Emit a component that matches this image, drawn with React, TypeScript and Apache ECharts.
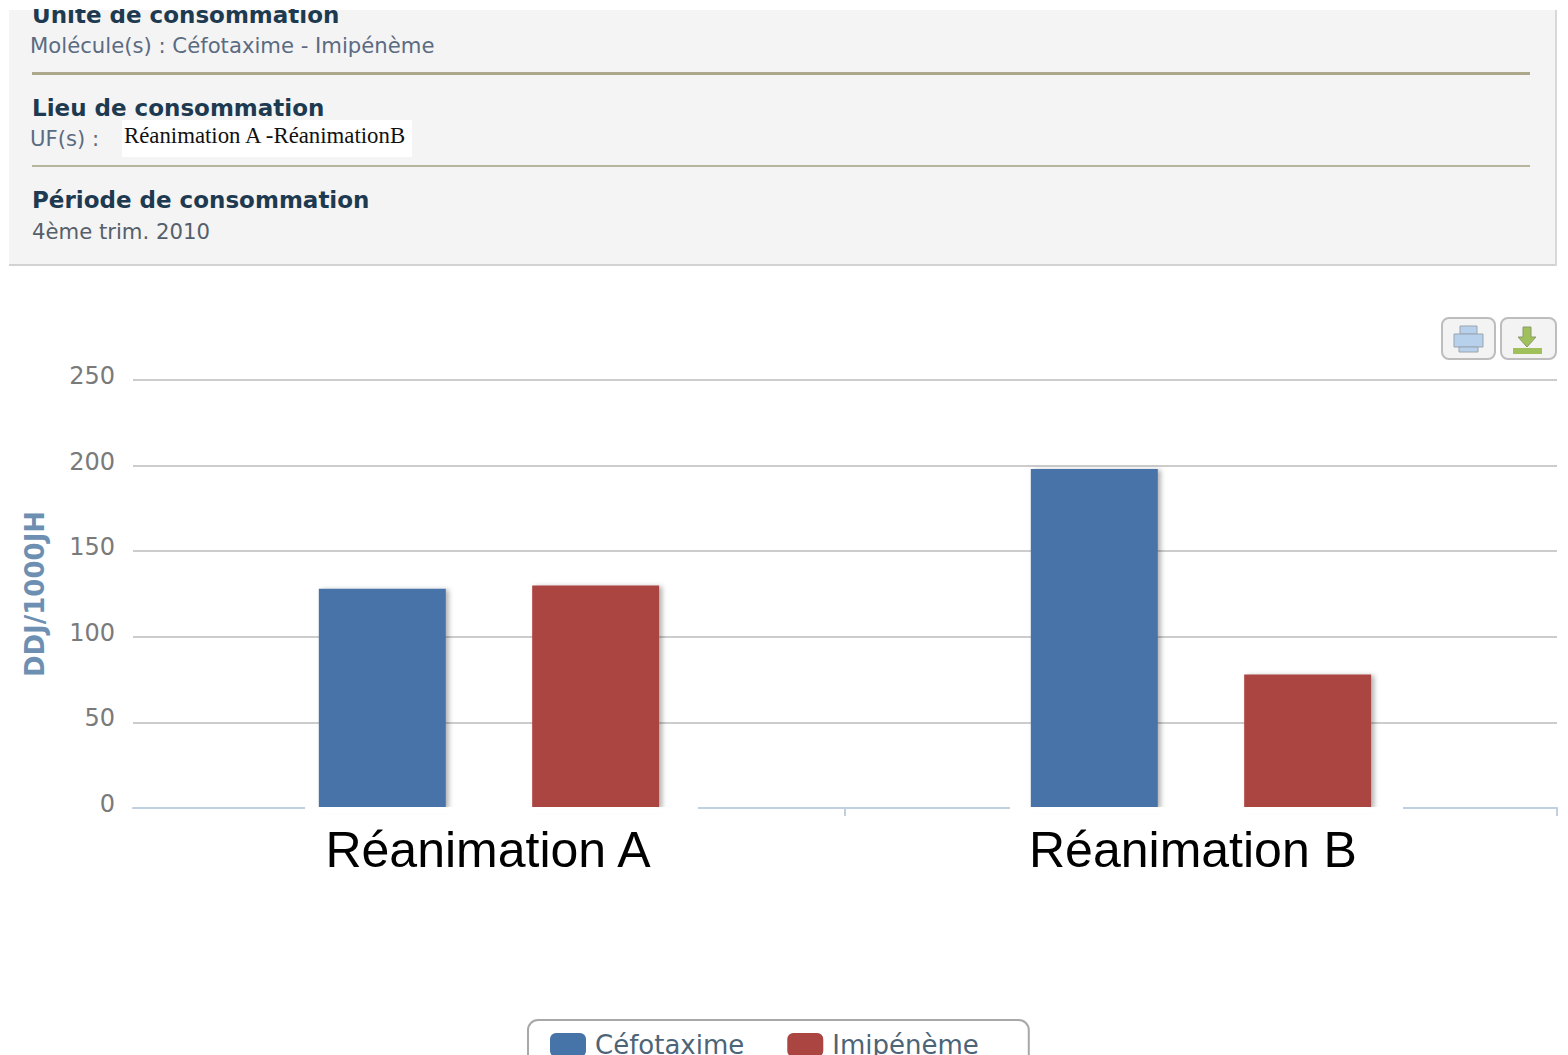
import React, { useEffect, useRef } from "react";
import * as echarts from "echarts";

const categories = ["Réanimation A", "Réanimation B"];
const seriesNames = ["Céfotaxime", "Imipénème"];
const cefotaxime = [128, 198];
const imipeneme = [130, 78];
const yMax = 250;
const yStep = 50;
const yTitle = "DDJ/1000JH";
const panelHeadings = ["Unité de consommation", "Lieu de consommation", "Période de consommation"];
const moleculeLine = "Molécule(s) : Céfotaxime - Imipénème";
const unitLine = "UF(s) :";
const unitValue = "Réanimation A -RéanimationB";
const periodLine = "4ème trim. 2010";

const BLUE = "#4673a8";
const RED = "#ab4542";

function txt(text: string, x: number, y: number, font: string, fill: string) {
  return { type: "text", x, y, z: 12, style: { text, font, fill, textVerticalAlign: "middle", verticalAlign: "middle" } };
}
function rect(x: number, y: number, width: number, height: number, fill: string, z = 10, extra: any = {}) {
  return { type: "rect", z, shape: { x, y, width, height, r: extra.r || 0 }, style: { fill, stroke: extra.stroke, lineWidth: extra.lineWidth } };
}

export default function App() {
  const ref = useRef<HTMLDivElement>(null);
  useEffect(() => {
    const chart = echarts.init(ref.current!, null, { renderer: "svg" });
    const headFont = "bold 23px 'DejaVu Sans'";
    const bodyFont = "21.2px 'DejaVu Sans'";
    chart.setOption({
      animation: false,
      backgroundColor: "#ffffff",
      grid: { left: 133, right: 11, top: 380, bottom: 247 },
      legend: {
        left: 528,
        top: 1020,
        orient: "horizontal",
        padding: [12, 50, 12, 22],
        itemGap: 43,
        itemWidth: 36,
        itemHeight: 24,
        icon: "roundRect",
        borderColor: "#a8a8a8",
        borderWidth: 2,
        borderRadius: 10,
        textStyle: { fontFamily: "'DejaVu Sans'", fontSize: 26, color: "#4d6478", padding: [0, 0, 0, 4] },
        data: seriesNames,
      },
      xAxis: {
        type: "category",
        data: [
          { value: categories[0] },
          { value: categories[1], textStyle: { padding: [0, 16, 0, 0] } },
        ],
        axisLine: { lineStyle: { color: "#c0d0e0", width: 2 } },
        axisTick: { show: true, length: 8, lineStyle: { color: "#c0d0e0", width: 2 } },
        axisLabel: { fontFamily: "'Liberation Sans'", fontSize: 50, color: "#000000", margin: 17, padding: [0, 2, 0, 0] },
      },
      yAxis: {
        type: "value",
        min: 0,
        max: yMax,
        interval: yStep,
        name: yTitle,
        nameLocation: "middle",
        nameGap: 85,
        nameTextStyle: { fontFamily: "'DejaVu Sans'", fontWeight: "bold", fontSize: 26, color: "#6d8fb2" },
        axisLine: { show: false },
        axisTick: { show: false },
        axisLabel: { fontFamily: "'DejaVu Sans'", fontSize: 24, color: "#7a7a7a", margin: 18, verticalAlign: "bottom", lineHeight: 8 },
        splitLine: { lineStyle: { color: "#cccccc", width: 2 } },
      },
      series: [
        {
          name: seriesNames[0],
          type: "bar",
          data: cefotaxime,
          barWidth: 127,
          barGap: "68%",
          itemStyle: { color: BLUE, shadowColor: "rgba(0,0,0,0.3)", shadowBlur: 5, shadowOffsetX: 3, shadowOffsetY: 1 },
        },
        {
          name: seriesNames[1],
          type: "bar",
          data: imipeneme,
          barWidth: 127,
          itemStyle: { color: RED, shadowColor: "rgba(0,0,0,0.3)", shadowBlur: 5, shadowOffsetX: 3, shadowOffsetY: 1 },
        },
      ],
      graphic: {
        elements: [
          rect(9, 10, 1547, 255, "#f4f4f4", 5),
          rect(9, 264, 1547, 2, "#d2d2d2", 5),
          rect(1555, 10, 2, 256, "#d8d8d8", 5),
          txt(panelHeadings[0], 32, 15, headFont, "#1e3a50"),
          rect(0, 0, 1568, 9, "#ffffff", 13),
          txt(moleculeLine, 30, 45, bodyFont, "#5b6b82"),
          rect(32, 72, 1498, 3, "#aca88c", 6),
          txt(panelHeadings[1], 32, 108, headFont, "#1e3a50"),
          txt(unitLine, 30, 138, bodyFont, "#5b6b82"),
          rect(122, 120, 290, 37, "#ffffff", 6),
          txt(unitValue, 124, 135, "22.8px 'Liberation Serif'", "#111111"),
          rect(32, 165, 1498, 2, "#b8b59f", 6),
          txt(panelHeadings[2], 32, 200, headFont, "#1e3a50"),
          txt(periodLine, 32, 231, bodyFont, "#55606a"),

          rect(1442, 318, 53, 41, "#f3f3f3", 6, { stroke: "#bdbdbd", lineWidth: 2, r: 7 }),
          rect(1501, 318, 55, 41, "#f3f3f3", 6, { stroke: "#bdbdbd", lineWidth: 2, r: 7 }),
          rect(1460, 326, 17, 8, "#b7d0ec", 7, { stroke: "#9aa4ae", lineWidth: 1 }),
          rect(1454, 334, 29, 13, "#b7d0ec", 7, { stroke: "#9aa4ae", lineWidth: 1 }),
          rect(1459, 347, 19, 5, "#b7d0ec", 7, { stroke: "#9aa4ae", lineWidth: 1 }),
          { type: "polygon", z: 7, shape: { points: [[1523, 327], [1531, 327], [1531, 337], [1536, 337], [1527, 347], [1518, 337], [1523, 337]] }, style: { fill: "#9fc05a", stroke: "#8a9a70", lineWidth: 1 } },
          rect(1513, 348, 29, 6, "#9fc05a", 7),

          rect(305, 807, 393, 6, "#ffffff", 9),
          rect(1010, 807, 393, 6, "#ffffff", 9),
          rect(128, 809, 10, 10, "#ffffff", 9),
        ],
      },
    });
    return () => chart.dispose();
  }, []);
  return <div ref={ref} style={{ position: "fixed", left: 0, top: 0, width: 1568, height: 1055, overflow: "hidden" }} />;
}
